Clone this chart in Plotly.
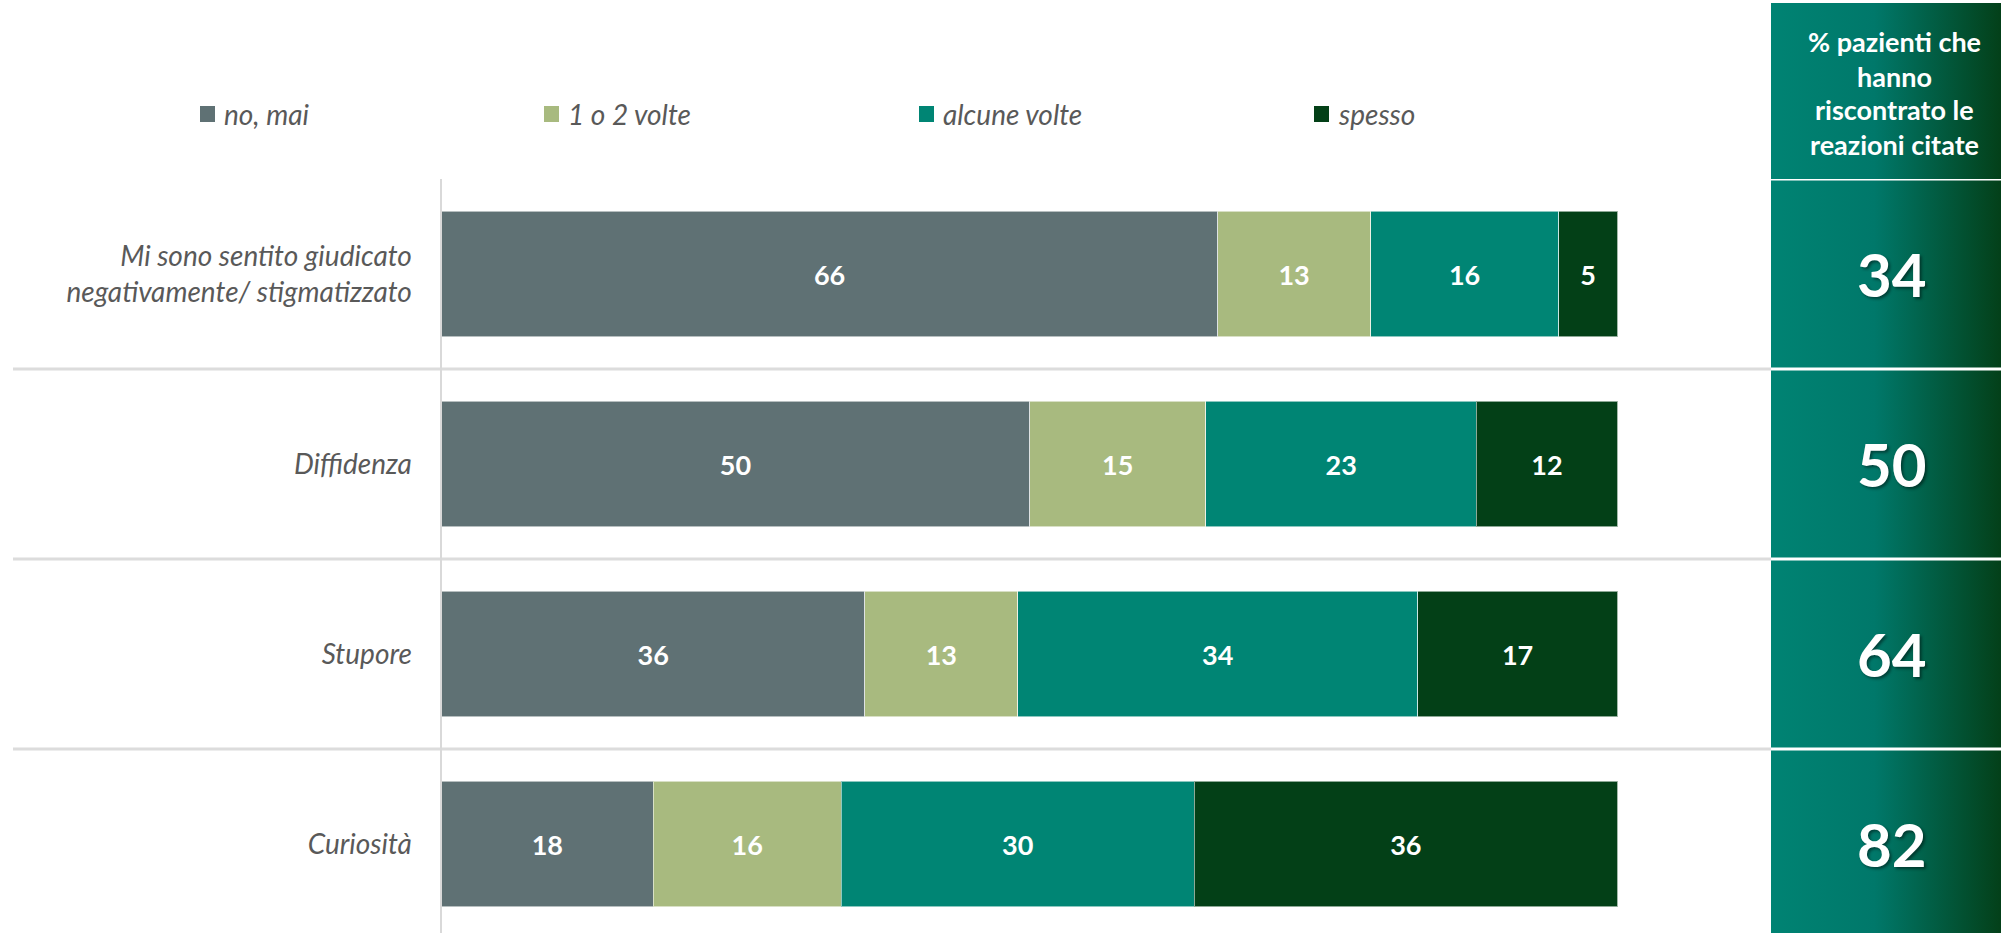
import plotly.graph_objects as go

# ---------------- data ----------------
categories = ["Mi sono sentito giudicato<br>negativamente/ stigmatizzato",
              "Diffidenza", "Stupore", "Curiosità"]
series_names = ["no, mai", "1 o 2 volte", "alcune volte", "spesso"]
no_mai = [66, 50, 36, 18]
una_due_volte = [13, 15, 13, 16]
alcune_volte = [16, 23, 34, 30]
spesso = [5, 12, 17, 36]
panel_title_lines = ["% pazienti che", "hanno", "riscontrato le", "reazioni citate"]
panel_values = [34, 50, 64, 82]

# ---------------- style ----------------
colors = ["#5F7174", "#A8BA7F", "#008574", "#034017"]
FONT = "Lato"
LABEL_GREY = "#595959"

W, H = 2001, 933


def px(X):
    return X / W


def py(Y):
    return 1 - Y / H


TOP = 179          # top of bar area (page px)
ROW = 190          # px per category
y_range = [-0.5 + (H - TOP) / ROW, -0.5]

fig = go.Figure()

series = [no_mai, una_due_volte, alcune_volte, spesso]
for name, vals, col in zip(series_names, series, colors):
    fig.add_trace(go.Bar(
        y=categories, x=vals, name=name, orientation="h",
        marker=dict(color=col, line=dict(color="rgba(255,255,255,0.55)", width=1)),
        width=0.66,
        text=vals, textposition="inside", insidetextanchor="middle",
        textfont=dict(color="white", size=27, family=FONT, weight="bold"),
        showlegend=False, hoverinfo="skip", cliponaxis=False,
    ))

# gradient panel on an overlay axis measured in page pixels
fig.add_trace(go.Scatter(
    x=[1771, 2001, 2001, 1771, 1771], y=[3, 3, 933, 933, 3],
    xaxis="x2", yaxis="y2", mode="lines", line=dict(width=0),
    fill="toself",
    fillgradient=dict(type="horizontal",
                      colorscale=[[0, "#008373"], [0.45, "#00786A"], [1, "#034019"]]),
    showlegend=False, hoverinfo="skip",
))

shapes = []
# grey row separators
for k in range(len(categories) - 1):
    shapes.append(dict(type="line", xref="paper", yref="y",
                       x0=px(13), x1=px(1771), y0=k + 0.5, y1=k + 0.5,
                       line=dict(color="#DCDCDC", width=3), layer="below"))
# white separators inside panel
for k in range(len(categories)):
    shapes.append(dict(type="line", xref="paper", yref="y",
                       x0=px(1771), x1=1.0, y0=k - 0.5, y1=k - 0.5,
                       line=dict(color="white", width=3), layer="above"))

annotations = []
# manual legend
legend_x = [200, 544, 919, 1314]
for name, col, lx in zip(series_names, colors, legend_x):
    shapes.append(dict(type="rect", xref="paper", yref="paper",
                       x0=px(lx), x1=px(lx + 15), y0=py(122), y1=py(106),
                       fillcolor=col, line=dict(width=0)))
    annotations.append(dict(xref="paper", yref="paper", x=px(lx + 22), y=py(114),
                            text=name, showarrow=False, xanchor="left", yanchor="middle",
                            font=dict(family=FONT, size=28, color=LABEL_GREY, style="italic")))

# panel header (one annotation per line for control of spacing)
header_y0, header_step = 42, 34
for i, line in enumerate(panel_title_lines):
    annotations.append(dict(xref="paper", yref="paper", x=px(1894),
                            y=py(header_y0 + i * header_step),
                            text=line, showarrow=False, xanchor="center", yanchor="middle",
                            font=dict(family=FONT, size=27, color="white", weight="bold")))
for cat, v in zip(categories, panel_values):
    annotations.append(dict(xref="paper", yref="y", x=px(1892), y=cat,
                            text=str(v), showarrow=False, xanchor="center", yanchor="middle",
                            font=dict(family=FONT, size=60, color="white", weight="bold",
                                      shadow="2px 2px 3px rgba(0,0,0,0.45)")))

fig.update_layout(
    width=W, height=H,
    margin=dict(l=0, r=0, t=0, b=0),
    paper_bgcolor="white", plot_bgcolor="rgba(0,0,0,0)",
    barmode="stack",
    showlegend=False,
    xaxis=dict(domain=[px(441.5), px(1617.5)], range=[0, 100], visible=False, fixedrange=True),
    yaxis=dict(domain=[0, py(TOP)], range=y_range,
               categoryorder="array", categoryarray=categories,
               showline=True, linecolor="#D9D9D9", linewidth=2,
               showgrid=False, zeroline=False, ticks="", ticklabelstandoff=22,
               tickfont=dict(family=FONT, size=28, color=LABEL_GREY, style="italic")),
    xaxis2=dict(domain=[0, 1], range=[0, W], visible=False, anchor="y2"),
    yaxis2=dict(domain=[0, 1], range=[H, 0], visible=False, anchor="x2"),
    shapes=shapes, annotations=annotations,
)

fig.write_html("out.html",
               config={"displayModeBar": False},
               post_script="document.body.style.margin='0';document.body.style.overflow='hidden';")
